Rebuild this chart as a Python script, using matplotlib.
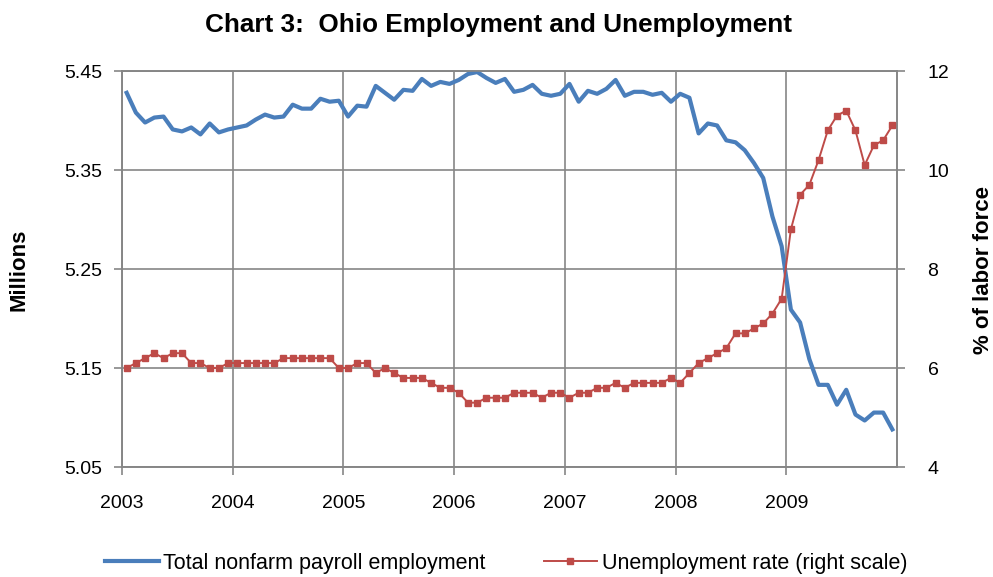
import numpy as np
import matplotlib.pyplot as plt

plt.rcParams['font.family'] = ['Liberation Sans', 'DejaVu Sans']

# Total nonfarm payroll employment, millions, monthly Jan 2003 - Dec 2009
emprego = [
    5.428, 5.408, 5.398, 5.403, 5.404, 5.391, 5.389, 5.393, 5.386, 5.397, 5.388, 5.391,
    5.393, 5.395, 5.401, 5.406, 5.403, 5.404, 5.416, 5.412, 5.412, 5.422, 5.419, 5.420,
    5.404, 5.415, 5.414, 5.435, 5.428, 5.421, 5.431, 5.430, 5.442, 5.435, 5.439, 5.437,
    5.441, 5.447, 5.449, 5.443, 5.438, 5.442, 5.429, 5.431, 5.436, 5.427, 5.425, 5.427,
    5.437, 5.419, 5.430, 5.427, 5.432, 5.441, 5.425, 5.429, 5.429, 5.426, 5.428, 5.419,
    5.427, 5.423, 5.387, 5.397, 5.395, 5.380, 5.378, 5.370, 5.357, 5.342, 5.303, 5.273,
    5.209, 5.196, 5.159, 5.133, 5.133, 5.113, 5.128, 5.103, 5.097, 5.105, 5.105, 5.088,
]

# Unemployment rate, % of labor force
desemprego = [
    6.0, 6.1, 6.2, 6.3, 6.2, 6.3, 6.3, 6.1, 6.1, 6.0, 6.0, 6.1,
    6.1, 6.1, 6.1, 6.1, 6.1, 6.2, 6.2, 6.2, 6.2, 6.2, 6.2, 6.0,
    6.0, 6.1, 6.1, 5.9, 6.0, 5.9, 5.8, 5.8, 5.8, 5.7, 5.6, 5.6,
    5.5, 5.3, 5.3, 5.4, 5.4, 5.4, 5.5, 5.5, 5.5, 5.4, 5.5, 5.5,
    5.4, 5.5, 5.5, 5.6, 5.6, 5.7, 5.6, 5.7, 5.7, 5.7, 5.7, 5.8,
    5.7, 5.9, 6.1, 6.2, 6.3, 6.4, 6.7, 6.7, 6.8, 6.9, 7.1, 7.4,
    8.8, 9.5, 9.7, 10.2, 10.8, 11.1, 11.2, 10.8, 10.1, 10.5, 10.6, 10.9,
]

anos = [2003, 2004, 2005, 2006, 2007, 2008, 2009]

# months placed in the middle of each month
x = 2003 + (np.arange(len(emprego)) + 0.5) / 12

cor_grade = '#868686'
azul = '#4A7EBB'
vermelho = '#BE4B48'

fig = plt.figure(figsize=(9.93, 5.77), dpi=100)
ax = fig.add_axes([0.1229, 0.1906, 0.7804, 0.6863])
ax2 = ax.twinx()

l1, = ax.plot(x, emprego, color=azul, lw=3.0, solid_joinstyle='round',
              label='Total nonfarm payroll employment', zorder=3)
l2, = ax2.plot(x, desemprego, color=vermelho, lw=1.4, marker='s', markersize=4.8,
               label='Unemployment rate (right scale)', zorder=3)

ax.set_xlim(2003, 2010)
ax.set_ylim(5.05, 5.45)
ax2.set_ylim(4, 12)
ax.set_xticks(anos)
ax.set_xticklabels([str(a) for a in anos])
ax.set_yticks([5.05, 5.15, 5.25, 5.35, 5.45])
ax.set_yticklabels(['5.05', '5.15', '5.25', '5.35', '5.45'])
ax2.set_yticks([4, 6, 8, 10, 12])

ax.grid(True, color=cor_grade, lw=1.2)
ax.set_axisbelow(True)
for a in (ax, ax2):
    for s in a.spines.values():
        s.set_color(cor_grade)
        s.set_linewidth(1.2)
    a.tick_params(colors=cor_grade, labelcolor='black', labelsize=14,
                  length=6, width=1.2, direction='out')
ax.tick_params(axis='y', pad=8)
ax.tick_params(axis='x', pad=14)
ax2.tick_params(axis='y', pad=16)

fig.text(0.502, 0.957, 'Chart 3:  Ohio Employment and Unemployment',
         ha='center', va='center', fontsize=18.8, fontweight='bold')
fig.text(0.019, 0.532, 'Millions', rotation=90, ha='center', va='center',
         fontsize=16, fontweight='bold')
fig.text(0.990, 0.532, '% of labor force', rotation=90, ha='center', va='center',
         fontsize=16, fontweight='bold')

fig.legend(handles=[l1, l2], loc='center', bbox_to_anchor=(0.5096, 1 - 563 / 577),
           ncol=2, frameon=False, fontsize=15.5, columnspacing=2.7,
           handlelength=2.5, handletextpad=0.2, borderpad=0.1)

fig.savefig('out.png', dpi=100)
